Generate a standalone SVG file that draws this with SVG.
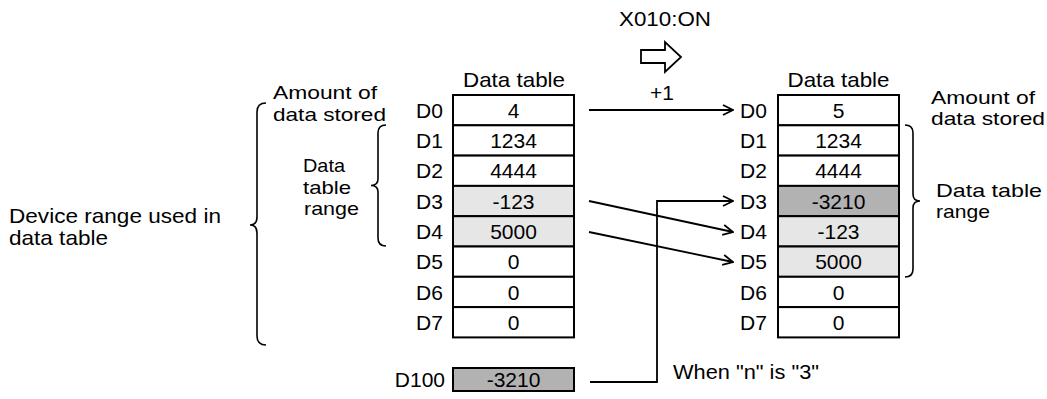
<svg xmlns="http://www.w3.org/2000/svg" width="1047" height="399" viewBox="0 0 1047 399">
<defs>
<style>
text{font-family:"Liberation Sans",Arial,sans-serif;font-size:21px;fill:#000}
text.m{font-size:19px}
.c{text-anchor:middle}
.cell{fill:#fff;stroke:#000;stroke-width:2}
.lt{fill:#e6e6e6}
.dk{fill:#b2b2b2}
.ln{fill:none;stroke:#000;stroke-width:1.8}
.br{fill:none;stroke:#000;stroke-width:1.6}
</style>
<marker id="ah" viewBox="0 0 12 12" refX="11" refY="6" markerWidth="12" markerHeight="12" markerUnits="userSpaceOnUse" orient="auto">
<path d="M1,1 L11,6 L1,11" fill="none" stroke="#000" stroke-width="1.8"/>
</marker>
</defs>
<rect width="1047" height="399" fill="#fff"/>

<g id="trigger">
<text x="665" y="26" class="c" textLength="92" lengthAdjust="spacingAndGlyphs">X010:ON</text>
<polygon points="641,50 665,50 665,42 681,57 665,72 665,63 641,63" fill="#fff" stroke="#000" stroke-width="1.8"/>
</g>

<g id="left-labels">
<text class="m" x="273" y="99" textLength="104" lengthAdjust="spacingAndGlyphs">Amount of</text>
<text class="m" x="273" y="120.5" textLength="113" lengthAdjust="spacingAndGlyphs">data stored</text>
<text class="m" x="303" y="172" textLength="42" lengthAdjust="spacingAndGlyphs">Data</text>
<text class="m" x="303" y="193.5" textLength="48" lengthAdjust="spacingAndGlyphs">table</text>
<text class="m" x="304" y="215" textLength="55" lengthAdjust="spacingAndGlyphs">range</text>
<text x="9" y="222.5" textLength="212" lengthAdjust="spacingAndGlyphs">Device range used in</text>
<text x="9" y="245" textLength="99" lengthAdjust="spacingAndGlyphs">data table</text>
<path class="br" d="M266,103 Q257,103 257,112 L257,217 Q257,225 250,225 Q257,225 257,233 L257,336 Q257,345 266,345"/>
<path class="br" d="M386,125 Q378,125 378,133 L378,179 Q378,185.5 371,185.5 Q378,185.5 378,192 L378,238 Q378,246 386,246"/>
</g>

<g id="table-before">
<text x="514" y="87" class="c" textLength="102" lengthAdjust="spacingAndGlyphs">Data table</text>
<rect class="cell" x="453" y="95" width="121" height="30.3"/>
<rect class="cell" x="453" y="125.3" width="121" height="30.3"/>
<rect class="cell" x="453" y="155.6" width="121" height="30.3"/>
<rect class="cell lt" x="453" y="185.9" width="121" height="30.3"/>
<rect class="cell lt" x="453" y="216.2" width="121" height="30.3"/>
<rect class="cell" x="453" y="246.5" width="121" height="30.3"/>
<rect class="cell" x="453" y="276.8" width="121" height="30.3"/>
<rect class="cell" x="453" y="307.1" width="121" height="30.3"/>
<text x="416" y="117.5">D0</text>
<text x="416" y="148">D1</text>
<text x="416" y="178.3">D2</text>
<text x="416" y="208.5">D3</text>
<text x="416" y="238.8">D4</text>
<text x="416" y="269.1">D5</text>
<text x="416" y="299.5">D6</text>
<text x="416" y="329.8">D7</text>
<text x="513.5" y="117.5" class="c">4</text>
<text x="513.5" y="148" class="c">1234</text>
<text x="513.5" y="178.3" class="c">4444</text>
<text x="513.5" y="208.5" class="c">-123</text>
<text x="513.5" y="238.8" class="c">5000</text>
<text x="513.5" y="269.1" class="c">0</text>
<text x="513.5" y="299.5" class="c">0</text>
<text x="513.5" y="329.8" class="c">0</text>
</g>

<g id="d100">
<rect class="cell dk" x="453" y="368" width="121" height="23"/>
<text x="445" y="387" text-anchor="end">D100</text>
<text x="513.5" y="387" class="c">-3210</text>
</g>

<g id="table-after">
<text x="838.5" y="87" class="c" textLength="102" lengthAdjust="spacingAndGlyphs">Data table</text>
<rect class="cell" x="778" y="95" width="121" height="30.3"/>
<rect class="cell" x="778" y="125.3" width="121" height="30.3"/>
<rect class="cell" x="778" y="155.6" width="121" height="30.3"/>
<rect class="cell dk" x="778" y="185.9" width="121" height="30.3"/>
<rect class="cell lt" x="778" y="216.2" width="121" height="30.3"/>
<rect class="cell lt" x="778" y="246.5" width="121" height="30.3"/>
<rect class="cell" x="778" y="276.8" width="121" height="30.3"/>
<rect class="cell" x="778" y="307.1" width="121" height="30.3"/>
<text x="740" y="117.5">D0</text>
<text x="740" y="148">D1</text>
<text x="740" y="178.3">D2</text>
<text x="740" y="208.5">D3</text>
<text x="740" y="238.8">D4</text>
<text x="740" y="269.1">D5</text>
<text x="740" y="299.5">D6</text>
<text x="740" y="329.8">D7</text>
<text x="838.5" y="117.5" class="c">5</text>
<text x="838.5" y="148" class="c">1234</text>
<text x="838.5" y="178.3" class="c">4444</text>
<text x="838.5" y="208.5" class="c">-3210</text>
<text x="838.5" y="238.8" class="c">-123</text>
<text x="838.5" y="269.1" class="c">5000</text>
<text x="838.5" y="299.5" class="c">0</text>
<text x="838.5" y="329.8" class="c">0</text>
</g>

<g id="right-labels">
<text class="m" x="931" y="103.5" textLength="104" lengthAdjust="spacingAndGlyphs">Amount of</text>
<text class="m" x="931" y="125" textLength="114" lengthAdjust="spacingAndGlyphs">data stored</text>
<text class="m" x="936" y="196.5" textLength="106" lengthAdjust="spacingAndGlyphs">Data table</text>
<text class="m" x="936" y="218" textLength="54" lengthAdjust="spacingAndGlyphs">range</text>
<path class="br" d="M905,125 Q913,125 913,133 L913,194 Q913,201 920,201 Q913,201 913,208 L913,269 Q913,277 905,277"/>
</g>

<g id="connectors">
<line class="ln" x1="589" y1="110" x2="733" y2="110" marker-end="url(#ah)"/>
<text x="662" y="100" class="c">+1</text>
<line class="ln" x1="589" y1="201" x2="733" y2="232" marker-end="url(#ah)"/>
<line class="ln" x1="589" y1="232" x2="733" y2="262" marker-end="url(#ah)"/>
<polyline class="ln" points="590,382 657,382 657,201 733,201" marker-end="url(#ah)"/>
<text x="673" y="379" textLength="146" lengthAdjust="spacingAndGlyphs">When "n" is "3"</text>
</g>
</svg>
